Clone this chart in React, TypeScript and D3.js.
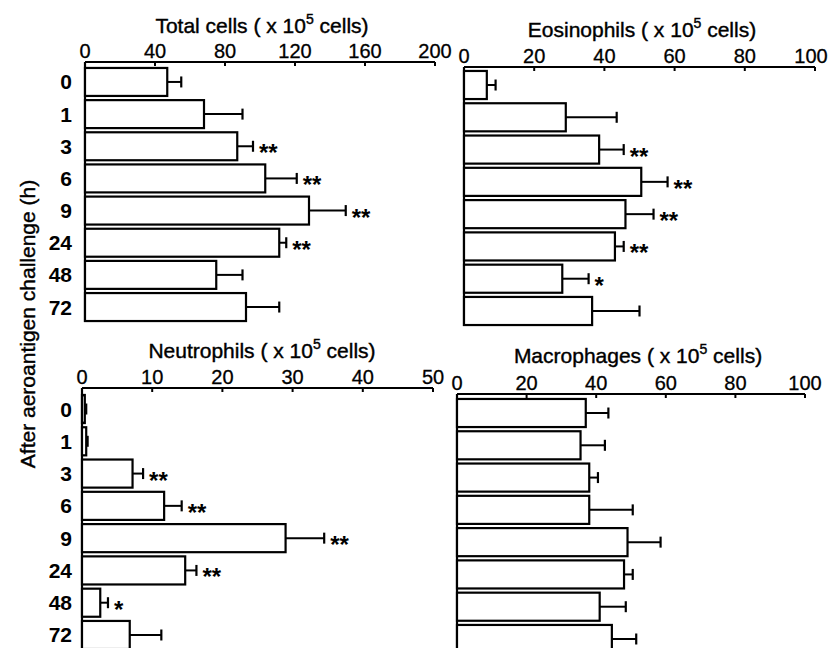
import React from 'react';
import * as d3 from 'd3';

const hours = ['0', '1', '3', '6', '9', '24', '48', '72'];

const totalMean = [47, 68, 87, 103, 128, 111, 75, 92];
const totalErr = [55, 90, 96, 121, 149, 115, 90, 111];
const totalStars = ['', '', '**', '**', '**', '**', '', ''];

const eosMean = [6.5, 29, 38.5, 50.5, 46, 43, 28, 36.5];
const eosErr = [9, 43.5, 45.5, 58, 54, 45.5, 35.5, 50];
const eosStars = ['', '', '**', '**', '**', '**', '*', ''];

const neuMean = [0.4, 0.6, 7.2, 11.7, 29, 14.7, 2.6, 6.8];
const neuErr = [0.6, 0.8, 8.7, 14.2, 34.5, 16.3, 3.7, 11.3];
const neuStars = ['', '', '**', '**', '**', '**', '*', ''];

const macMean = [37, 35.5, 38, 38, 49, 48, 41, 44.5];
const macErr = [43.5, 42.5, 40.5, 50.5, 58.5, 50.5, 48.5, 51.5];
const macStars = ['', '', '', '', '', '', '', ''];

const FONT = '"Liberation Sans", Arial, Helvetica, sans-serif';

type PanelProps = {
  title: string;
  titleX: number;
  titleY: number;
  means: number[];
  errs: number[];
  stars: string[];
  max: number;
  ticks: number[];
  x0: number;
  x1: number;
  axisY: number;
  bandTop: number;
  bandBottom: number;
  showCats: boolean;
};

function Panel(p: PanelProps) {
  const x = d3.scaleLinear().domain([0, p.max]).range([p.x0, p.x1]);
  const y = d3.scaleBand().domain(hours).range([p.bandTop, p.bandBottom]).paddingInner(0.13).paddingOuter(0.03);
  const bh = y.bandwidth();
  return (
    <g>
      <text x={p.titleX} y={p.titleY} textAnchor="middle" fontFamily={FONT} fontSize={21} stroke="#000" strokeWidth={0.4}>
        {p.title} ( x 10<tspan fontSize={14} dy={-9}>5</tspan>
        <tspan dy={9}> cells)</tspan>
      </text>
      <line x1={p.x0} x2={p.x1} y1={p.axisY} y2={p.axisY} stroke="#000" strokeWidth={2.2} />
      {p.ticks.map((t) => (
        <g key={t}>
          <line x1={x(t)} x2={x(t)} y1={p.axisY} y2={p.axisY + 4} stroke="#000" strokeWidth={2} />
          {/* keep the last label inside the page */}
          <text x={Math.min(x(t), 811)} y={p.axisY - 4} textAnchor="middle" fontFamily={FONT} fontSize={20} stroke="#000" strokeWidth={0.3}>
            {t}
          </text>
        </g>
      ))}
      <line x1={p.x0} x2={p.x0} y1={p.axisY} y2={p.bandBottom} stroke="#000" strokeWidth={2.2} />
      {hours.map((h, i) => {
        const yy = y(h) as number;
        const cy = yy + bh / 2;
        const xe = x(p.errs[i]);
        return (
          <g key={h}>
            <rect
              x={p.x0}
              y={yy}
              width={x(p.means[i]) - p.x0}
              height={bh}
              fill="#fff"
              stroke="#000"
              strokeWidth={2.2}
            />
            <line x1={x(p.means[i])} x2={xe} y1={cy} y2={cy} stroke="#000" strokeWidth={2} />
            <line x1={xe} x2={xe} y1={cy - 5.5} y2={cy + 5.5} stroke="#000" strokeWidth={2.2} />
            {p.stars[i] && (
              <text x={xe + 6} y={cy + 15} fontFamily={FONT} fontSize={24} fontWeight="bold">
                {p.stars[i]}
              </text>
            )}
            {p.showCats && (
              <text x={72} y={cy + 7.5} textAnchor="end" fontFamily={FONT} fontSize={21} fontWeight="bold">
                {h}
              </text>
            )}
          </g>
        );
      })}
    </g>
  );
}

export default function App() {
  return (
    <svg width={830} height={648} style={{ display: 'block', position: 'absolute', left: 0, top: 0 }}>
      <rect width={830} height={648} fill="#fff" />
      <Panel title="Total cells" titleX={262} titleY={33} means={totalMean} errs={totalErr} stars={totalStars}
        max={200} ticks={[0, 40, 80, 120, 160, 200]} x0={85} x1={435} axisY={62} bandTop={67} bandBottom={322} showCats />
      <Panel title="Eosinophils" titleX={642} titleY={37} means={eosMean} errs={eosErr} stars={eosStars}
        max={100} ticks={[0, 20, 40, 60, 80, 100]} x0={464} x1={815} axisY={67} bandTop={70} bandBottom={326} showCats={false} />
      <Panel title="Neutrophils" titleX={262} titleY={358} means={neuMean} errs={neuErr} stars={neuStars}
        max={50} ticks={[0, 10, 20, 30, 40, 50]} x0={82} x1={433} axisY={388} bandTop={394} bandBottom={650} showCats />
      <Panel title="Macrophages" titleX={638} titleY={363} means={macMean} errs={macErr} stars={macStars}
        max={100} ticks={[0, 20, 40, 60, 80, 100]} x0={457} x1={805} axisY={394} bandTop={398} bandBottom={654} showCats={false} />
      <text transform="translate(35,324) rotate(-90)" textAnchor="middle" fontFamily={FONT} fontSize={21}
        stroke="#000" strokeWidth={0.4}>
        After aeroantigen challenge (h)
      </text>
    </svg>
  );
}
